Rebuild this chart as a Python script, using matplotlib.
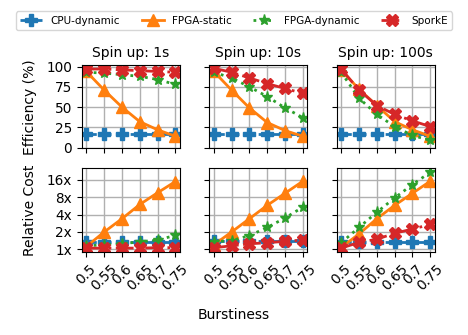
import matplotlib
matplotlib.use("Agg")
import matplotlib.pyplot as plt
from matplotlib.ticker import FixedLocator, NullLocator, FixedFormatter

burstiness = [0.5, 0.55, 0.6, 0.65, 0.7, 0.75]
x_labels = ["0.5", "0.55", "0.6", "0.65", "0.7", "0.75"]
spinups = ["Spin up: 1s", "Spin up: 10s", "Spin up: 100s"]
series = ["CPU-dynamic", "FPGA-static", "FPGA-dynamic", "SporkE"]

# Efficiency (%) per spin-up
eff_cpu = [[16.7] * 6, [16.7] * 6, [16.7] * 6]
eff_static = [[94, 71, 50, 32, 22, 14],
              [94, 71, 49, 31, 21, 14],
              [96, 72, 52, 32, 22, 14]]
eff_fdyn = [[93, 92, 90, 88, 84, 78],
            [93, 86, 75, 63, 49, 37],
            [93, 61, 41, 26, 15, 9]]
eff_spork = [[97, 97, 96, 95, 94, 93],
             [98, 93, 86, 79, 73, 67],
             [97, 71, 52, 41, 33, 26]]

# Relative cost per spin-up
cost_cpu = [[1.35] * 6, [1.37] * 6, [1.35] * 6]
cost_static = [[1.12, 2.0, 3.4, 6.0, 9.6, 15.0],
               [1.2, 2.0, 3.4, 5.8, 9.4, 15.2],
               [1.08, 1.85, 3.4, 5.8, 9.4, 15.2]]
cost_fdyn = [[1.15, 1.2, 1.25, 1.35, 1.45, 1.75],
             [1.35, 1.42, 1.73, 2.4, 3.5, 5.4],
             [1.3, 2.4, 4.4, 7.8, 13.3, 21.7]]
cost_spork = [[1.05, 1.05, 1.05, 1.05, 1.07, 1.07],
              [1.07, 1.15, 1.25, 1.3, 1.38, 1.45],
              [1.05, 1.32, 1.5, 1.9, 2.25, 2.7]]

cost_ticks = [1, 2, 4, 8, 16]
cost_labels = ["1x", "2x", "4x", "8x", "16x"]
eff_ticks = [0, 25, 50, 75, 100]

styles = [
    dict(color="#1f77b4", marker="P", linestyle="--"),
    dict(color="#ff7f0e", marker="^", linestyle="-"),
    dict(color="#2ca02c", marker="*", linestyle=":"),
    dict(color="#d62728", marker="X", linestyle="-."),
]

fig, axes = plt.subplots(2, 3, figsize=(4.68, 3.35), dpi=100,
                         sharex=True, sharey="row")
fig.subplots_adjust(left=0.175, right=0.929, top=0.806, bottom=0.248,
                    wspace=0.30, hspace=0.24)

eff_data = [eff_cpu, eff_static, eff_fdyn, eff_spork]
cost_data = [cost_cpu, cost_static, cost_fdyn, cost_spork]

handles = []
for c in range(3):
    ax_t = axes[0, c]
    ax_b = axes[1, c]
    for s, st in enumerate(styles):
        h, = ax_t.plot(burstiness, eff_data[s][c], lw=2, ms=8, label=series[s], **st)
        ax_b.plot(burstiness, cost_data[s][c], lw=2, ms=8, **st)
        if c == 0:
            handles.append(h)
    ax_t.set_title(spinups[c], fontsize=10)
    ax_t.set_ylim(-1, 102)
    ax_t.yaxis.set_major_locator(FixedLocator(eff_ticks))
    ax_t.grid(True, color="#b0b0b0", lw=1)
    ax_b.set_yscale("log", base=2)
    ax_b.yaxis.set_major_locator(FixedLocator(cost_ticks))
    ax_b.yaxis.set_major_formatter(FixedFormatter(cost_labels))
    ax_b.yaxis.set_minor_locator(NullLocator())
    ax_b.grid(True, color="#b0b0b0", lw=1)
    ax_b.set_xticks(burstiness)
    ax_b.set_xticklabels(x_labels, rotation=45)
    for ax in (ax_t, ax_b):
        ax.tick_params(labelsize=9.8)
        ax.set_axisbelow(True)

axes[0, 0].set_ylabel("Efficiency (%)", fontsize=10)
axes[1, 0].set_ylabel("Relative Cost", fontsize=10)
axes[0, 0].yaxis.set_label_coords(-0.46, 0.5)
axes[1, 0].yaxis.set_label_coords(-0.46, 0.5)

fig.text(0.5, 0.06, "Burstiness", ha="center", va="center", fontsize=10)

fig.legend(handles, series, loc="upper center", ncol=4, fontsize=7.5,
           bbox_to_anchor=(0.5, 0.975), numpoints=1, columnspacing=2.1,
           handlelength=2.1, handletextpad=0.8, borderpad=0.4,
           borderaxespad=0.3, frameon=True)

fig.savefig("out.png", dpi=100)
